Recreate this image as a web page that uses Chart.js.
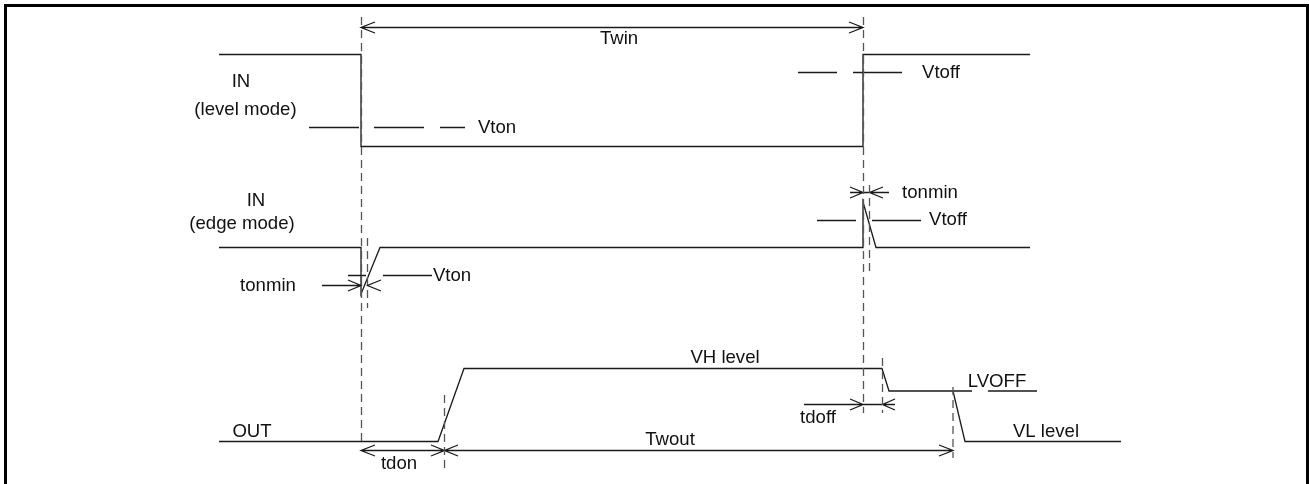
<!DOCTYPE html>
<html>
<head>
<meta charset="utf-8">
<style>html,body{margin:0;padding:0;background:#fff}canvas{display:block}</style>
<script src="https://cdn.jsdelivr.net/npm/chart.js@4"></script>
</head>
<body>
<canvas id="c" width="1309" height="484"></canvas>
<script>
// Waveforms (schematic time, level)
const inLevelT = [219,361,361,863,863,1030];
const inLevelV = [54.5,54.5,146.5,146.5,54.5,54.5];
const inEdgeT = [219,361,361,380,863,863,876,1030];
const inEdgeV = [247.5,247.5,294,247.5,247.5,202,247.5,247.5];
const outT = [219,438,464,882,889,953,965,1121];
const outV = [441.5,441.5,368.5,368.5,391,391,441.5,441.5];
const lvoffT = [953,972,null,988,1037];
const lvoffV = [391,391,null,391,391];
// Threshold levels
const vtonLevelT = [309,359,null,374,424,null,440,465];
const vtonLevelV = [127.5,127.5,null,127.5,127.5,null,127.5,127.5];
const vtoffLevelT = [798,837,null,853,902];
const vtoffLevelV = [72.5,72.5,null,72.5,72.5];
const vtonEdgeT = [348,366,null,383,432];
const vtonEdgeV = [275.5,275.5,null,275.5,275.5];
const vtoffEdgeT = [817,856,null,872,921];
const vtoffEdgeV = [220.5,220.5,null,220.5,220.5];
// Dashed markers
const markerT = [361.5,863.5,367.5,869.5,882.5,953,444.5];
const markerFrom = [17,17,238,185,358,387,395];
const markerTo = [441,413,308,275,413,458,468];
// Dimension arrows
const twinT = [375,361,375,null,361,863,null,849,863,849];
const twinV = [22,27.5,33,null,27.5,27.5,null,22,27.5,33];
const tonminLT = [322,361,null,348,361,348,null,381,367.5,381];
const tonminLV = [285.5,285.5,null,280,285.5,291,null,280,285.5,291];
const tonminRT = [850,863,850,null,850,889,null,883,869.5,883];
const tonminRV = [187,192.5,198,null,192.5,192.5,null,187,192.5,198];
const tdoffT = [804,895,null,850,863,850,null,895,882.5,895];
const tdoffV = [404.5,404.5,null,399,404.5,410,null,399,404.5,410];
const spanT = [375,361,375,null,361,953,null,431,444.5,431,null,458,444.5,458,null,939,953,939];
const spanV = [445,450.5,456,null,450.5,450.5,null,445,450.5,456,null,445,450.5,456,null,445,450.5,456];
// Frame
const frameT = [5.5,5.5,1307.5,1307.5];
const frameV = [484,5.5,5.5,484];
// Labels
const labelText = ['Twin','IN','(level mode)','Vton','Vtoff','IN','(edge mode)','tonmin','Vton','tonmin','Vtoff','VH level','LVOFF','tdoff','OUT','tdon','Twout','VL level'];
const labelT = [619,241,245.5,497,941,256,242,268,452,930,948,725,997,818,252,399,670,1046];
const labelV = [39,82,110,128,72.5,201,224,285.5,276,192.5,219.5,358,381.5,418,431.5,464,440,432];

const INK = '#1a1a1a';
const pts = (xs, ys) => xs.map((x, i) => ({x, y: ys[i]}));
const line = (xs, ys, w = 1.3, color = INK, dash = []) => ({
  data: pts(xs, ys), showLine: true, borderColor: color, backgroundColor: color,
  borderWidth: w, borderDash: dash, pointRadius: 0, spanGaps: false, tension: 0, clip: false
});
const datasets = [
  line(frameT, frameV, 3, '#000'),
  ...markerT.map((t, i) => line([t, t], [markerFrom[i], markerTo[i]], 1.3, '#555', [8, 5])),
  line(inLevelT, inLevelV), line(inEdgeT, inEdgeV), line(outT, outV), line(lvoffT, lvoffV),
  line(vtonLevelT, vtonLevelV), line(vtoffLevelT, vtoffLevelV), line(vtonEdgeT, vtonEdgeV), line(vtoffEdgeT, vtoffEdgeV),
  line(twinT, twinV), line(tonminLT, tonminLV), line(tonminRT, tonminRV), line(tdoffT, tdoffV), line(spanT, spanV)
];
const textPlugin = {
  id: 'diagramText',
  afterDatasetsDraw(chart) {
    const {ctx, scales} = chart;
    ctx.save();
    ctx.fillStyle = '#111';
    ctx.font = '18.6px "Liberation Sans", Arial, sans-serif';
    ctx.textAlign = 'center';
    ctx.textBaseline = 'middle';
    labelText.forEach((s, i) => ctx.fillText(s, scales.x.getPixelForValue(labelT[i]), scales.y.getPixelForValue(labelV[i])));
    ctx.restore();
  }
};
new Chart(document.getElementById('c'), {
  type: 'scatter',
  data: {datasets},
  options: {
    responsive: false, animation: false, devicePixelRatio: 1,
    layout: {padding: 0},
    plugins: {legend: {display: false}, tooltip: {enabled: false}, title: {display: false}},
    scales: {
      x: {type: 'linear', min: 0, max: 1309, display: false},
      y: {type: 'linear', min: 0, max: 484, reverse: true, display: false}
    }
  },
  plugins: [textPlugin]
});
</script>
</body>
</html>
